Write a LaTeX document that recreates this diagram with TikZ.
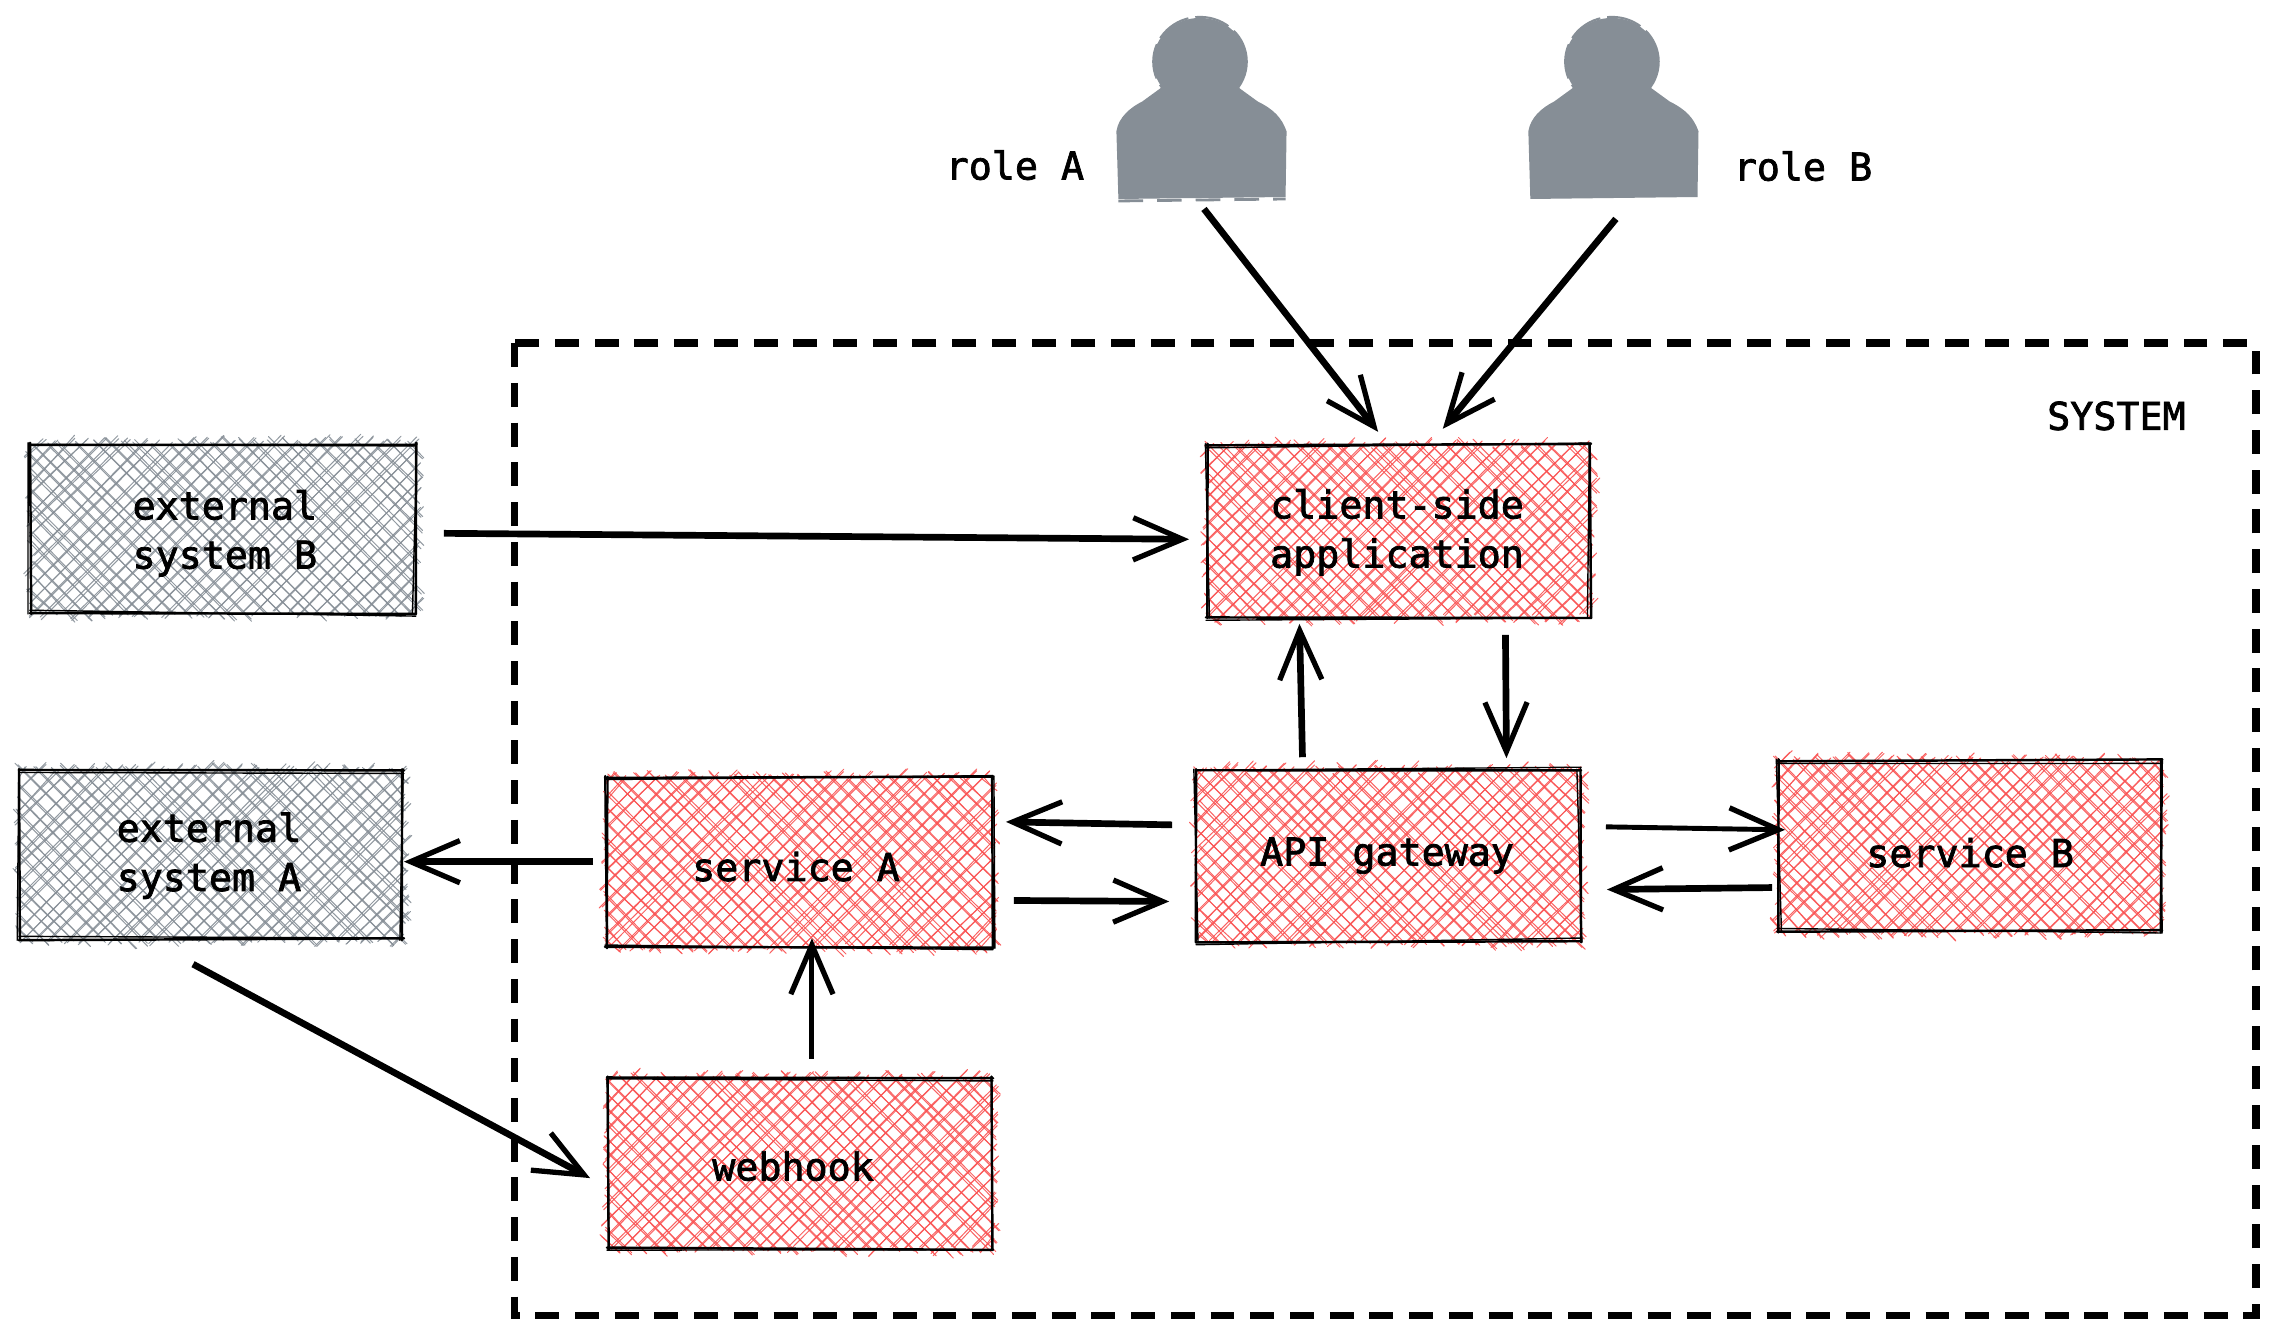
\documentclass[tikz,border=0pt]{standalone}
\usepackage{fontspec}
\setmonofont[FakeBold=2]{DejaVu Sans Mono}
\usetikzlibrary{arrows.meta,calc}
\definecolor{hred}{HTML}{FA5252}
\definecolor{hgray}{HTML}{868E96}
\definecolor{pgray}{HTML}{868E96}
\tikzset{
  lbl/.style={font=\ttfamily\fontsize{10.9}{14}\selectfont,align=center,inner sep=0pt,text=black},
  sysbox/.style={lbl,minimum width=60pt,minimum height=20pt},
  conn/.style={draw=black,line width=1.9pt,line cap=butt,-{Straight Barb[length=14pt,width=12pt,line width=1.5pt]}},
  connthin/.style={conn,line width=1.4pt},
  hatchline/.style={line width=0.28pt,line cap=round,draw opacity=0.9},
  edgeline/.style={draw=black,line cap=round},
  figure/.style={inner sep=0pt,minimum width=47pt,minimum height=52pt},
  sysframe/.style={draw=black,line width=2.2pt,dash pattern=on 6.8pt off 4.5pt},
}
% one rough hachure stroke between two points
\newcommand{\hstroke}[5]{%
  \pgfmathsetmacro\ja{rand*2.2}\pgfmathsetmacro\jb{rand*2.2}%
  \pgfmathsetmacro\jc{rand*2.2}\pgfmathsetmacro\jd{rand*2.2}%
  \draw[hatchline,draw=#5] (#1+\ja,#2+\jb) -- (#3+\jc,#4+\jd);}
% sketchy box: x1 y1 x2 y2 colour
\newcommand{\sketchbox}[5]{%
  \pgfmathsetmacro\cfrom{#1+#2+7}\pgfmathsetmacro\cnext{\cfrom+15}\pgfmathsetmacro\cto{#3+#4-4}%
  \foreach \c in {\cfrom,\cnext,...,\cto}{%
    \pgfmathsetmacro\cc{\c+rand*3}%
    \pgfmathsetmacro\xs{max(#1,\cc-#4)}\pgfmathsetmacro\xe{min(#3,\cc-#2)}%
    \pgfmathsetmacro\ova{rand*4+2}\pgfmathsetmacro\ovb{rand*4+4}%
    \pgfmathsetmacro\pa{\xs-\ova}\pgfmathsetmacro\pb{\cc-\xs+\ova}%
    \pgfmathsetmacro\pc{\xe+\ovb}\pgfmathsetmacro\pd{\cc-\xe-\ovb}%
    \hstroke{\pa}{\pb}{\pc}{\pd}{#5}\hstroke{\pa}{\pb}{\pc}{\pd}{#5}%
  }%
  \pgfmathsetmacro\dfrom{#1-#4+7}\pgfmathsetmacro\dnext{\dfrom+15}\pgfmathsetmacro\dto{#3-#2-4}%
  \foreach \c in {\dfrom,\dnext,...,\dto}{%
    \pgfmathsetmacro\cc{\c+rand*3}%
    \pgfmathsetmacro\xs{max(#1,\cc+#2)}\pgfmathsetmacro\xe{min(#3,\cc+#4)}%
    \pgfmathsetmacro\ova{rand*4+2}\pgfmathsetmacro\ovb{rand*4+4}%
    \pgfmathsetmacro\pa{\xs-\ova}\pgfmathsetmacro\pb{\xs-\cc-\ova}%
    \pgfmathsetmacro\pc{\xe+\ovb}\pgfmathsetmacro\pd{\xe-\cc+\ovb}%
    \hstroke{\pa}{\pb}{\pc}{\pd}{#5}\hstroke{\pa}{\pb}{\pc}{\pd}{#5}%
  }%
  \foreach \w/\a in {0.7/1.2,0.4/3.5}{%
    \pgfmathsetmacro\ja{rand*\a}\pgfmathsetmacro\jb{rand*\a}\pgfmathsetmacro\jc{rand*\a}\pgfmathsetmacro\jd{rand*\a}%
    \pgfmathsetmacro\je{rand*\a}\pgfmathsetmacro\jf{rand*\a}\pgfmathsetmacro\jg{rand*\a}\pgfmathsetmacro\jh{rand*\a}%
    \draw[edgeline,line width=\w pt] (#1-1,#2+\ja) -- (#3+1,#2+\jb);
    \draw[edgeline,line width=\w pt] (#3+\jc,#2-1) -- (#3+\jd,#4+1);
    \draw[edgeline,line width=\w pt] (#3+1,#4+\je) -- (#1-1,#4+\jf);
    \draw[edgeline,line width=\w pt] (#1+\jg,#4+1) -- (#1+\jh,#2-1);
  }%
}
% person silhouette around (#1,#2)
\newcommand{\personshape}[2]{%
  \begin{scope}[shift={(#1,#2)}]
  \fill[pgray] (-2,-48) ellipse [x radius=47,y radius=44];
  \draw[pgray,line width=0.6pt,dash pattern=on 10pt off 2pt] (-2,-48) ellipse [x radius=47,y radius=45];
  \fill[pgray] (-38,-24) -- (-60,-8) .. controls (-72,-2) and (-84,8) .. (-86,22)
    -- (-84,90) -- (84,88) -- (85,22)
    .. controls (80,8) and (72,0) .. (56,-8)
    -- (34,-24) -- cycle;
  \end{scope}
}
\begin{document}
\begin{tikzpicture}[x=0.00995cm,y=-0.00995cm]
\pgfmathsetseed{4217}
\useasboundingbox (0,0) rectangle (2285.4,1343.7);
\fill[white] (0,0) rectangle (2285.4,1343.7);

\draw[sysframe] (517,345) rectangle (2267,1322);

\sketchbox{31}{446}{417}{616}{hgray}
\sketchbox{20}{774}{405}{944}{hgray}
\sketchbox{609}{781}{997}{952}{hred}
\sketchbox{611}{1083}{997}{1255}{hred}
\sketchbox{1213}{447}{1598}{620}{hred}
\sketchbox{1203}{774}{1588}{946}{hred}
\sketchbox{1787}{764}{2172}{936}{hred}

\node[sysbox] (extB) at (226,536) {external\\system B};
\node[sysbox] (extA) at (210,860) {external\\system A};
\node[sysbox] (svcA) at (800,871) {service A};
\node[sysbox] (hook) at (797,1172) {webhook};
\node[sysbox] (client) at (1404,535) {client-side\\application};
\node[sysbox] (api) at (1394,860) {API gateway};
\node[sysbox] (svcB) at (1980,857) {service B};
\node[lbl] (sysname) at (2127,418) {SYSTEM};

\personshape{1208}{110}
\personshape{1622}{110}
\draw[pgray,line width=0.8pt,dash pattern=on 7pt off 4pt] (1124,202) -- (1292,200);
\node[figure] (userA) at (1208,110) {};
\node[figure] (userB) at (1622,110) {};
\node[lbl] (roleA) at (1020,166) {role A};
\node[lbl] (roleB) at (1812,167) {role B};

\draw[conn] ($(userA)+(2,100)$) -- ($(client)+(-19,-101)$);
\draw[conn] ($(userB)+(2,110)$) -- ($(client)+(46,-104)$);
\draw[conn] ($(extB)+(220,0)$) -- ($(client)+(-209,7)$);
\draw[conn] ($(client)+(109,103)$) -- ($(api)+(120,-98)$);
\draw[conn] ($(api)+(-85,-99)$) -- ($(client)+(-98,92)$);
\draw[conn] ($(api)+(-216,-31)$) -- ($(svcA)+(211,-45)$);
\draw[conn] ($(svcA)+(219,34)$) -- ($(api)+(-219,46)$);
\draw[connthin] ($(api)+(220,-29)$) -- ($(svcB)+(-186,-23)$);
\draw[conn] ($(svcB)+(-199,35)$) -- ($(api)+(221,34)$);
\draw[conn] ($(svcA)+(-204,-5)$) -- ($(extA)+(196,6)$);
\draw[connthin] ($(hook)+(19,-108)$) -- ($(svcA)+(16,72)$);
\draw[conn] ($(extA)+(-16,109)$) -- ($(hook)+(-204,12)$);
\end{tikzpicture}
\end{document}
